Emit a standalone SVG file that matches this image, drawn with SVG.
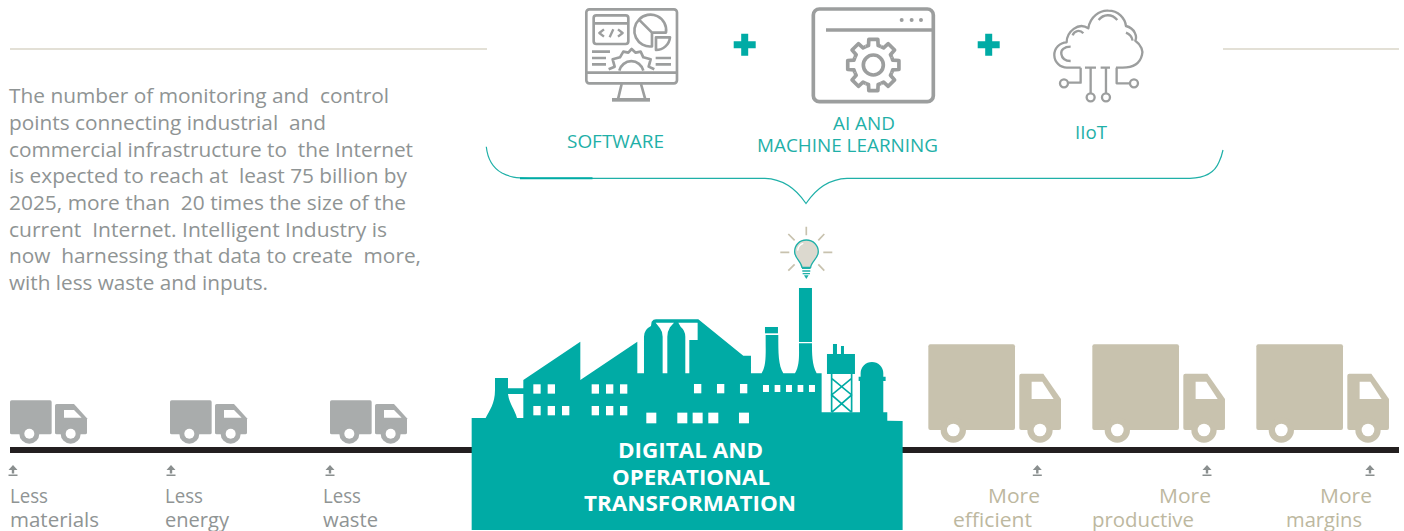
<svg xmlns="http://www.w3.org/2000/svg" width="1404" height="531" viewBox="0 0 1404 531">
<style>
text{font-family:"Open Sans","Noto Sans","Liberation Sans",sans-serif;white-space:pre}
.body{font-size:20px;fill:#8f9494}
.less{font-size:20px;fill:#8f9494}
.more{font-size:20px;fill:#bdb8a0}
.cap{font-size:18.700px;fill:#1fb0a8}
.head{font-size:22px;font-weight:700;fill:#fff;text-anchor:middle}
.ic{fill:none;stroke:#9c9e9e;stroke-linejoin:round}
.rule{stroke:#c8c2ae;stroke-width:1.2}
.t{fill:#00aba5}
.w{fill:#fff}
.ray{stroke:#c8c2ae;stroke-width:5;fill:none}
</style>
<defs>
<g id="small-truck" transform="scale(0.3333)">
<rect x="30" y="31" width="125" height="102" rx="5" fill="#a9acac"/>
<path d="M170 42H222L261 85V128a5 5 0 0 1-5 5H170a5 5 0 0 1-5-5V47a5 5 0 0 1 5-5Z" fill="#a9acac"/>
<path d="M192 60H222L245 83H192Z" fill="#fff"/>
<circle cx="88" cy="131" r="30" fill="#a9acac"/><circle cx="88" cy="131" r="15" fill="#fff"/>
<circle cx="212" cy="131" r="30" fill="#a9acac"/><circle cx="212" cy="131" r="15" fill="#fff"/>
</g>
<g id="big-truck" transform="scale(0.3333)">
<rect x="85" y="28" width="260" height="257" rx="6" fill="#c8c2ae"/>
<path d="M364 116H430L483 192V279a6 6 0 0 1-6 6H364a6 6 0 0 1-6-6V122a6 6 0 0 1 6-6Z" fill="#c8c2ae"/>
<path d="M395 140H427L461 192H395Z" fill="#fff"/>
<circle cx="160" cy="285" r="38" fill="#c8c2ae"/><circle cx="160" cy="285" r="19" fill="#fff"/>
<circle cx="420" cy="285" r="38" fill="#c8c2ae"/><circle cx="420" cy="285" r="19" fill="#fff"/>
</g>
<g id="mark" fill="#8a8f8f">
<path d="M0 0L4.500 5H1.200V8.500H-1.200V5H-4.500Z"/><rect x="-4.500" y="9.500" width="9" height="1.500"/>
</g>
<path id="plus" d="M-3.500-11H3.500V-3.500H11V3.500H3.500V11H-3.500V3.500H-11V-3.500H-3.500Z" fill="#00aba5"/>
<polyline id="tooth" points="-23,-55.400 -14.500,-58.200 -13.500,-76.800 13.500,-76.800 14.500,-58.200 23,-55.400"/>
</defs>

<g id="connectors">
<path class="rule" d="M10 49H487M1223 49H1399" fill="none"/>
<rect x="10" y="447" width="1389" height="6" fill="#231f20"/>
<path d="M486.300 146.700C487.500 158 493 168 502 173C510 177 515 178 530 178.300H765C785 179 797 190 806 203.500C815 190 827 179 847 178.300H1190C1205 178 1215 172 1219 162Q1221.500 157 1223 150" fill="none" stroke="#1fb0a8" stroke-width="1.200"/>
<path d="M520 178.300H592.500" stroke="#00aba5" stroke-width="2" fill="none"/>
</g>

<g id="intro-text" class="body">
<text x="9" y="102.700" textLength="380" lengthAdjust="spacingAndGlyphs">The number of monitoring and  control</text>
<text x="9" y="130" textLength="317" lengthAdjust="spacingAndGlyphs">points connecting industrial  and</text>
<text x="9" y="156.700" textLength="404" lengthAdjust="spacingAndGlyphs">commercial infrastructure to  the Internet</text>
<text x="9" y="183.300" textLength="398" lengthAdjust="spacingAndGlyphs">is expected to reach at  least 75 billion by</text>
<text x="9" y="210" textLength="397" lengthAdjust="spacingAndGlyphs">2025, more than  20 times the size of the</text>
<text x="9" y="236.700" textLength="378" lengthAdjust="spacingAndGlyphs">current  Internet. Intelligent Industry is</text>
<text x="9" y="263.300" textLength="412" lengthAdjust="spacingAndGlyphs">now  harnessing that data to create  more,</text>
<text x="9" y="290" textLength="259" lengthAdjust="spacingAndGlyphs">with less waste and inputs.</text>
</g>

<g id="software">
<g transform="translate(480 0) scale(0.3333)" class="ic" stroke-width="8">
<rect x="319" y="28" width="272" height="222" rx="9"/>
<path d="M319 218H591"/>
<path d="M425 252L414 298M483 252L496 298"/>
<rect x="396" y="294" width="114" height="11" fill="#9c9e9e" stroke="none"/>
<rect x="341" y="46" width="104" height="86" rx="8"/>
<path d="M341 70H445"/>
<path d="M372 88L358 99L372 110M414 88L428 99L414 110M400 88L389 112" stroke-width="7"/>
<path d="M477 59L516 98V139A47 47 0 0 1 477 59A47 47 0 0 1 558 98H516"/>
<path d="M528 112H570A42 42 0 0 1 528 150Z"/>
<path d="M336 155H390M336 174H378M336 193H378M527 174H573M527 193H573"/>
<path d="M386 208L404 200L398 178L420 172L430 155L445 158L455 147L467 158L482 155L490 172L512 178L506 200L523 208"/>
<path d="M418 212A37 37 0 0 1 490 212"/>
</g>
<text class="cap" x="567" y="148" textLength="97" lengthAdjust="spacingAndGlyphs">SOFTWARE</text>
</g>

<use href="#plus" x="744.700" y="44.700"/>

<g id="ai-ml">
<g transform="translate(805 0) scale(0.3333)" class="ic" stroke-width="11">
<rect x="25" y="27" width="360" height="278" rx="18"/>
<path d="M63 90H385"/>
<g fill="#9c9e9e" stroke="none"><circle cx="290" cy="60" r="6"/><circle cx="320" cy="60" r="6"/><circle cx="348" cy="60" r="6"/></g>
<g transform="translate(205 195)">
<use href="#tooth"/><use href="#tooth" transform="rotate(45)"/><use href="#tooth" transform="rotate(90)"/><use href="#tooth" transform="rotate(135)"/><use href="#tooth" transform="rotate(180)"/><use href="#tooth" transform="rotate(225)"/><use href="#tooth" transform="rotate(270)"/><use href="#tooth" transform="rotate(315)"/>
<circle r="30"/>
</g>
</g>
<text class="cap" x="833" y="130" textLength="62" lengthAdjust="spacingAndGlyphs">AI AND</text>
<text class="cap" x="757" y="152" textLength="181" lengthAdjust="spacingAndGlyphs">MACHINE LEARNING</text>
</g>

<use href="#plus" x="988.700" y="44.700"/>

<g id="iiot">
<g transform="translate(840 0) scale(0.3333)" class="ic" stroke-width="7" stroke="#a8aaaa">
<path d="M722 203H682A38 38 0 0 1 680 127C680 95 715 65 745 85C750 50 780 30 805 32C835 32 855 55 858 78C885 85 892 110 886 122C905 135 910 155 906 165C900 190 880 203 848 203H828"/>
<path d="M735 203H768M782 203H810"/>
<path d="M692 140C672 140 662 150 664 162C666 175 676 183 692 183"/>
<path d="M698 106C702 92 720 88 730 100"/>
<path d="M776 60C790 42 815 40 832 60"/>
<path d="M858 98C868 102 876 110 878 122"/>
<path d="M722 203V248H685M752 203V280M798 203V280M830 203V250H870"/>
<circle cx="672" cy="250" r="12"/><circle cx="752" cy="292" r="12"/><circle cx="798" cy="292" r="12"/><circle cx="882" cy="250" r="12"/>
</g>
<text class="cap" x="1075" y="139" textLength="32" lengthAdjust="spacingAndGlyphs">IIoT</text>
</g>

<g id="factory">
<g transform="translate(470 220) scale(0.3333)">
<path class="t" d="M5 594H47C58 572 75 552 75 510V474H114V505H160V480L331 365V480L502 365V460H522V350Q522 328 543 318L545 305Q550 298 558 298H685L820 407H843V460H875C890 435 887 400 887 345H925C925 400 925 435 940 460H975C990 435 987 400 987 370H1026C1026 400 1026 435 1040 460H1055V577H1170V483H1166V470H1172V460A34 34 0 0 1 1240 460V470H1247V483H1240V577H1252V602L1298 603V930H5Z"/>
<path class="w" d="M114 522H160V594H141C135 570 117 550 114 522Z"/>
<path class="w" d="M557 308H612L600 322Q592 335 592 350V460H578V350Q578 335 570 325Z"/>
<path class="w" d="M625 308H683V360H658V460H646V350Q646 332 632 320Z"/>
<rect class="t" x="987" y="204" width="39" height="162"/>
<rect class="t" x="885" y="321" width="39" height="19"/>
<rect class="t" x="1071" y="402" width="84" height="60"/>
<rect class="t" x="1089" y="372" width="12" height="32"/>
<rect class="t" x="1113" y="378" width="9" height="26"/>
<path d="M1085 460V577M1145 460V577M1085 475L1145 525L1085 577M1145 475L1085 525L1145 577" stroke="#00aba5" stroke-width="5" fill="none"/>
<g class="w">
<rect x="190" y="493" width="22" height="28"/><rect x="233" y="493" width="22" height="28"/>
<rect x="365" y="493" width="22" height="28"/><rect x="408" y="493" width="22" height="28"/><rect x="450" y="493" width="22" height="28"/>
<rect x="190" y="558" width="22" height="28"/><rect x="233" y="558" width="22" height="28"/><rect x="276" y="558" width="22" height="28"/>
<rect x="365" y="558" width="22" height="28"/><rect x="408" y="558" width="22" height="28"/><rect x="450" y="558" width="22" height="28"/>
<rect x="672" y="492" width="22" height="28"/><rect x="741" y="492" width="22" height="28"/><rect x="810" y="492" width="22" height="28"/>
<rect x="879" y="495" width="18" height="21"/><rect x="914" y="495" width="17" height="21"/><rect x="948" y="495" width="18" height="21"/><rect x="983" y="495" width="17" height="21"/><rect x="1017" y="495" width="18" height="21"/>
<rect x="529" y="578" width="30" height="32"/><rect x="622" y="578" width="30" height="32"/><rect x="668" y="578" width="30" height="32"/><rect x="715" y="578" width="30" height="32"/><rect x="807" y="578" width="30" height="32"/>
</g>
<path class="ray" d="M1009 20V46M955 42L974 61M1063 42L1045 61M931 97H958M1060 97H1087M955 152L974 133M1063 152L1045 133"/>
<path d="M1009 60C988 60 974 76 974 95C974 115 994 125 996 142H1022C1024 125 1045 115 1045 95C1045 76 1030 60 1009 60Z" fill="#dcd9cf" stroke="#1fb0a8" stroke-width="4"/>
<path d="M983 92Q985 74 1000 70" stroke="#fff" stroke-width="4" fill="none"/>
<path d="M996 145H1022M997 153H1021M998 161H1020" stroke="#1fb0a8" stroke-width="4" fill="none"/>
<path d="M1002 166H1016L1009 177Z" fill="#1fb0a8"/>
</g>
<text class="head" x="690.500" y="457.700" textLength="145" lengthAdjust="spacingAndGlyphs">DIGITAL AND</text>
<text class="head" x="691" y="485" textLength="158" lengthAdjust="spacingAndGlyphs">OPERATIONAL</text>
<text class="head" x="690" y="511" textLength="212" lengthAdjust="spacingAndGlyphs">TRANSFORMATION</text>
</g>

<g id="truck-materials">
<use href="#small-truck" x="0" y="390"/><use href="#mark" x="13" y="465"/>
<text class="less" x="10" y="503" textLength="38" lengthAdjust="spacingAndGlyphs">Less</text>
<text class="less" x="10" y="526.700" textLength="89" lengthAdjust="spacingAndGlyphs">materials</text>
</g>
<g id="truck-energy">
<use href="#small-truck" x="160" y="390"/><use href="#mark" x="171" y="465"/>
<text class="less" x="165" y="503" textLength="38" lengthAdjust="spacingAndGlyphs">Less</text>
<text class="less" x="165" y="526.700" textLength="64" lengthAdjust="spacingAndGlyphs">energy</text>
</g>
<g id="truck-waste">
<use href="#small-truck" x="320" y="390"/><use href="#mark" x="330" y="465"/>
<text class="less" x="323" y="503" textLength="38" lengthAdjust="spacingAndGlyphs">Less</text>
<text class="less" x="323" y="526.700" textLength="55" lengthAdjust="spacingAndGlyphs">waste</text>
</g>
<g id="truck-efficient">
<use href="#big-truck" x="900" y="335"/><use href="#mark" x="1037.300" y="465"/>
<text class="more" x="988" y="503" textLength="52" lengthAdjust="spacingAndGlyphs">More</text>
<text class="more" x="953" y="526.700" textLength="79" lengthAdjust="spacingAndGlyphs">efficient</text>
</g>
<g id="truck-productive">
<use href="#big-truck" x="1064" y="335"/><use href="#mark" x="1207" y="465"/>
<text class="more" x="1159" y="503" textLength="52" lengthAdjust="spacingAndGlyphs">More</text>
<text class="more" x="1092" y="526.700" textLength="102" lengthAdjust="spacingAndGlyphs">productive</text>
</g>
<g id="truck-margins">
<use href="#big-truck" x="1228" y="335"/><use href="#mark" x="1370" y="465"/>
<text class="more" x="1320" y="503" textLength="52" lengthAdjust="spacingAndGlyphs">More</text>
<text class="more" x="1286" y="526.700" textLength="76" lengthAdjust="spacingAndGlyphs">margins</text>
</g>
</svg>
